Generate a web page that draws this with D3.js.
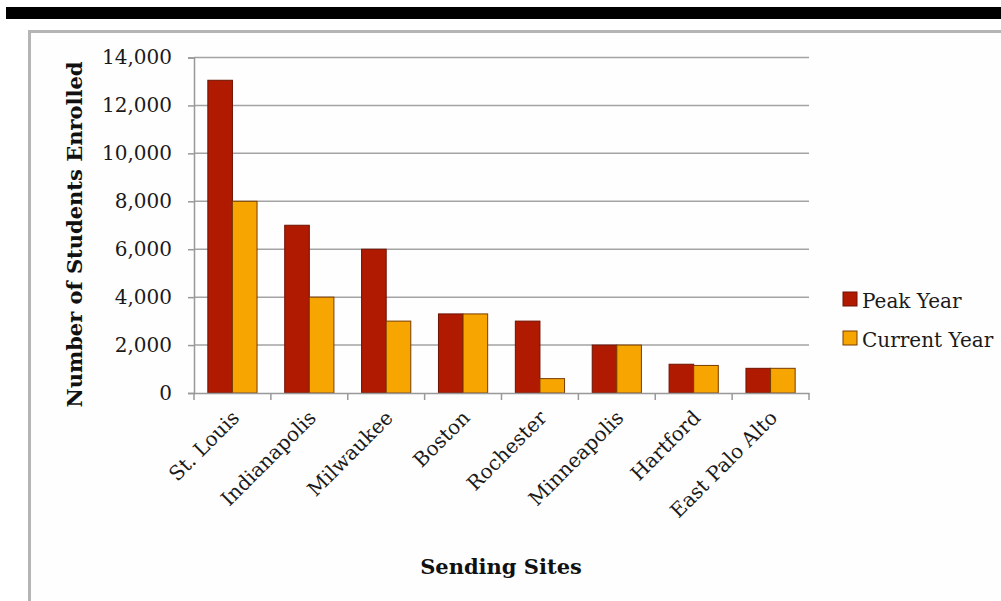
<html>
    <head>
        <title>Sending Sites</title>
        <style>
            body { margin: 0; background: #ffffff; }
        </style>
    </head>
    <body>

        <div id="chart-area"></div>

        <script src="https://d3js.org/d3.v7.min.js"></script>

        <script>

            // data
            const sites = ["St. Louis", "Indianapolis", "Milwaukee", "Boston", "Rochester", "Minneapolis", "Hartford", "East Palo Alto"]
            const peakYear = [13050, 7000, 6000, 3300, 3000, 2000, 1200, 1030]
            const currentYear = [8000, 4000, 3000, 3300, 600, 2000, 1150, 1030]
            const series = ["Peak Year", "Current Year"]
            const yTicks = [0, 2000, 4000, 6000, 8000, 10000, 12000, 14000]

            const MARGIN = { LEFT: 194, RIGHT: 192, TOP: 57.5, BOTTOM: 208 }
            const WIDTH = 1001 - MARGIN.LEFT - MARGIN.RIGHT
            const HEIGHT = 601 - MARGIN.TOP - MARGIN.BOTTOM
            const FONT = "'DejaVu Serif', 'Liberation Serif', serif"

            const color = d3.scaleOrdinal()
                            .domain(series)
                            .range(["#B01A00", "#F7A500"])
            const strokeColor = d3.scaleOrdinal()
                            .domain(series)
                            .range(["#6e1200", "#7a3c00"])

            const svg = d3.select("#chart-area")
                    .append("svg")
                        .attr("width", 1001)
                        .attr("height", 601);

            // black band on top + light frame
            svg.append("rect")
                .attr("x", 6).attr("y", 7)
                .attr("width", 995).attr("height", 12)
                .attr("fill", "#000");

            svg.append("rect")
                .attr("x", 29.5).attr("y", 31.5)
                .attr("width", 1001).attr("height", 600)
                .attr("fill", "#fefefe")
                .attr("stroke", "#b5b5b5")
                .attr("stroke-width", 3);

            const g = svg.append("g")
                        .attr("transform", `translate(${MARGIN.LEFT}, ${MARGIN.TOP})`);

            // scales
            const x0 = d3.scaleBand()
                        .domain(sites)
                        .range([0, WIDTH])
                        .paddingInner(0)
                        .paddingOuter(0)

            const x1 = d3.scaleBand()
                        .domain(series)
                        .range([x0.bandwidth() * 0.18, x0.bandwidth() * 0.82])

            const y = d3.scaleLinear()
                        .domain([0, 14000])
                        .range([HEIGHT, 0]);

            // gridlines
            g.append("g")
                .selectAll("line")
                .data(yTicks.filter(d => d > 0))
                .enter().append("line")
                    .attr("x1", 0).attr("x2", WIDTH)
                    .attr("y1", d => y(d)).attr("y2", d => y(d))
                    .attr("stroke", "#a3a3a3")
                    .attr("stroke-width", 1.5);

            // y axis
            const yAxis = d3.axisLeft(y)
                            .tickValues(yTicks)
                            .tickSize(6)
                            .tickPadding(16)
                            .tickFormat(d3.format(","))
            g.append("g")
                .call(yAxis)
                .call(a => a.select(".domain").attr("stroke", "#999").attr("stroke-width", 1.5))
                .call(a => a.selectAll(".tick line").attr("stroke", "#999").attr("stroke-width", 1.5))
                .selectAll("text")
                    .style("fill", "#1a1a1a")
                    .attr("font-size", "20px")
                    .attr("font-family", FONT)

            // bars
            const groups = g.selectAll(".site")
                            .data(sites).enter()
                            .append("g")
                                .attr("class", "site")
                                .attr("transform", d => `translate(${x0(d)}, 0)`)

            groups.selectAll("rect")
                .data((d, i) => [
                    { key: "Peak Year", value: peakYear[i] },
                    { key: "Current Year", value: currentYear[i] }
                ])
                .enter().append("rect")
                    .attr("x", d => x1(d.key))
                    .attr("y", d => y(d.value))
                    .attr("width", x1.bandwidth())
                    .attr("height", d => HEIGHT - y(d.value))
                    .attr("fill", d => color(d.key))
                    .attr("stroke", d => strokeColor(d.key))
                    .attr("stroke-width", 1);

            // x axis
            const xAxis = d3.axisBottom(x0).tickSize(0).tickFormat("")
            const xg = g.append("g")
                .attr("transform", `translate(0, ${HEIGHT})`)
                .call(xAxis)
                .call(a => a.select(".domain").attr("stroke", "#999").attr("stroke-width", 1.5))

            xg.selectAll(".bound")
                .data(d3.range(sites.length + 1))
                .enter().append("line")
                    .attr("x1", i => i * x0.bandwidth())
                    .attr("x2", i => i * x0.bandwidth())
                    .attr("y1", 0).attr("y2", 7)
                    .attr("stroke", "#999")
                    .attr("stroke-width", 1.5);

            g.selectAll(".xlabel")
                .data(sites).enter()
                .append("text")
                    .attr("class", "xlabel")
                    .attr("transform", d => `translate(${x0(d) + x0.bandwidth() / 2 + 8}, ${HEIGHT + 26}) rotate(-45)`)
                    .attr("text-anchor", "end")
                    .attr("font-size", "20px")
                    .attr("font-family", FONT)
                    .attr("fill", "#1a1a1a")
                    .text(d => d);

            // axis titles
            g.append("text")
                .attr("x", 307)
                .attr("y", 516)
                .attr("font-size", "21px")
                .attr("font-weight", "bold")
                .attr("font-family", FONT)
                .attr("text-anchor", "middle")
                .attr("fill", "#111")
                .text("Sending Sites");

            g.append("text")
                .attr("x", -(177))
                .attr("y", -112)
                .attr("transform", "rotate(-90)")
                .attr("font-size", "21px")
                .attr("font-weight", "bold")
                .attr("font-family", FONT)
                .attr("text-anchor", "middle")
                .attr("fill", "#111")
                .text("Number of Students Enrolled");

            // legend
            const legend = svg.append("g")
                        .attr("transform", "translate(843, 292)")

            series.forEach((s, i) => {
                const row = legend.append("g")
                    .attr("transform", `translate(0, ${i * 39})`)

                row.append("rect")
                    .attr("width", 14)
                    .attr("height", 14)
                    .attr("fill", color(s))
                    .attr("stroke", strokeColor(s))
                    .attr("stroke-width", 1);

                row.append("text")
                    .attr("x", 19)
                    .attr("y", 16)
                    .attr("font-size", "20px")
                    .attr("font-family", FONT)
                    .attr("fill", "#1a1a1a")
                    .text(s);
            })

        </script>
    </body>
</html>
